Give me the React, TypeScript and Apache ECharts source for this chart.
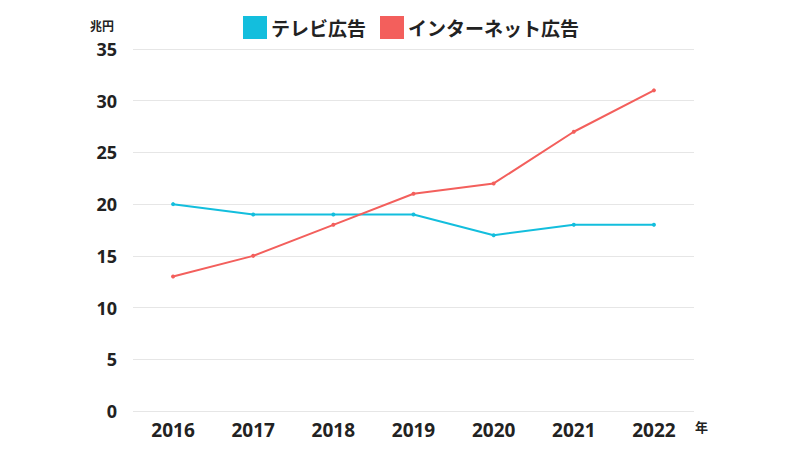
import React, { useEffect, useRef } from "react";
import * as echarts from "echarts";

const years = ["2016", "2017", "2018", "2019", "2020", "2021", "2022"];
const tvAds = [20, 19, 19, 19, 17, 18, 18];
const internetAds = [13, 15, 18, 21, 22, 27, 31];
const seriesNames = ["テレビ広告", "インターネット広告"];
const colors = ["#13BEDD", "#F35F5C"];

const FONT = "'Noto Sans CJK JP', 'Noto Sans', sans-serif";
const NUMFONT = "'Open Sans', 'Noto Sans', sans-serif";

export default function App() {
  const ref = useRef<HTMLDivElement>(null);
  useEffect(() => {
    if (!ref.current) return;
    const chart = echarts.init(ref.current, undefined, { renderer: "svg" });
    chart.setOption({
      animation: false,
      backgroundColor: "#ffffff",
      color: colors,
      textStyle: { fontFamily: FONT },
      legend: {
        top: 11,
        left: 238,
        itemWidth: 24,
        itemHeight: 23,
        itemGap: 14,
        icon: "rect",
        data: seriesNames,
        textStyle: { fontSize: 19, fontWeight: "bold", color: "#222", fontFamily: FONT, padding: [0, 0, 0, -1] },
      },
      grid: { left: 133, right: 106, top: 49, bottom: 39, containLabel: false },
      xAxis: {
        type: "category",
        data: years,
        boundaryGap: true,
        axisLine: { show: false },
        axisTick: { show: false },
        axisLabel: { fontSize: 19, fontWeight: "bold", color: "#222", margin: 9, fontFamily: NUMFONT },
      },
      yAxis: {
        type: "value",
        min: 0,
        max: 35,
        interval: 5,
        axisLine: { show: false },
        axisTick: { show: false },
        splitLine: { lineStyle: { color: "#e6e6e6", width: 1 } },
        axisLabel: { fontSize: 18, fontWeight: "bold", color: "#222", margin: 16, fontFamily: NUMFONT },
      },
      graphic: [
        { type: "text", left: 90, top: 19, style: { text: "兆円", fontSize: 12, fontWeight: "bold", fill: "#222", fontFamily: FONT } },
        { type: "text", left: 695, top: 420, style: { text: "年", fontSize: 13, fontWeight: "bold", fill: "#222", fontFamily: FONT } },
      ],
      series: [
        {
          name: seriesNames[0],
          type: "line",
          data: tvAds,
          symbol: "circle",
          symbolSize: 4,
          lineStyle: { width: 2 },
        },
        {
          name: seriesNames[1],
          type: "line",
          data: internetAds,
          symbol: "circle",
          symbolSize: 4,
          lineStyle: { width: 2 },
        },
      ],
    });
    return () => chart.dispose();
  }, []);
  return <div ref={ref} style={{ width: 800, height: 450, position: "absolute", left: 0, top: 0 }} />;
}
